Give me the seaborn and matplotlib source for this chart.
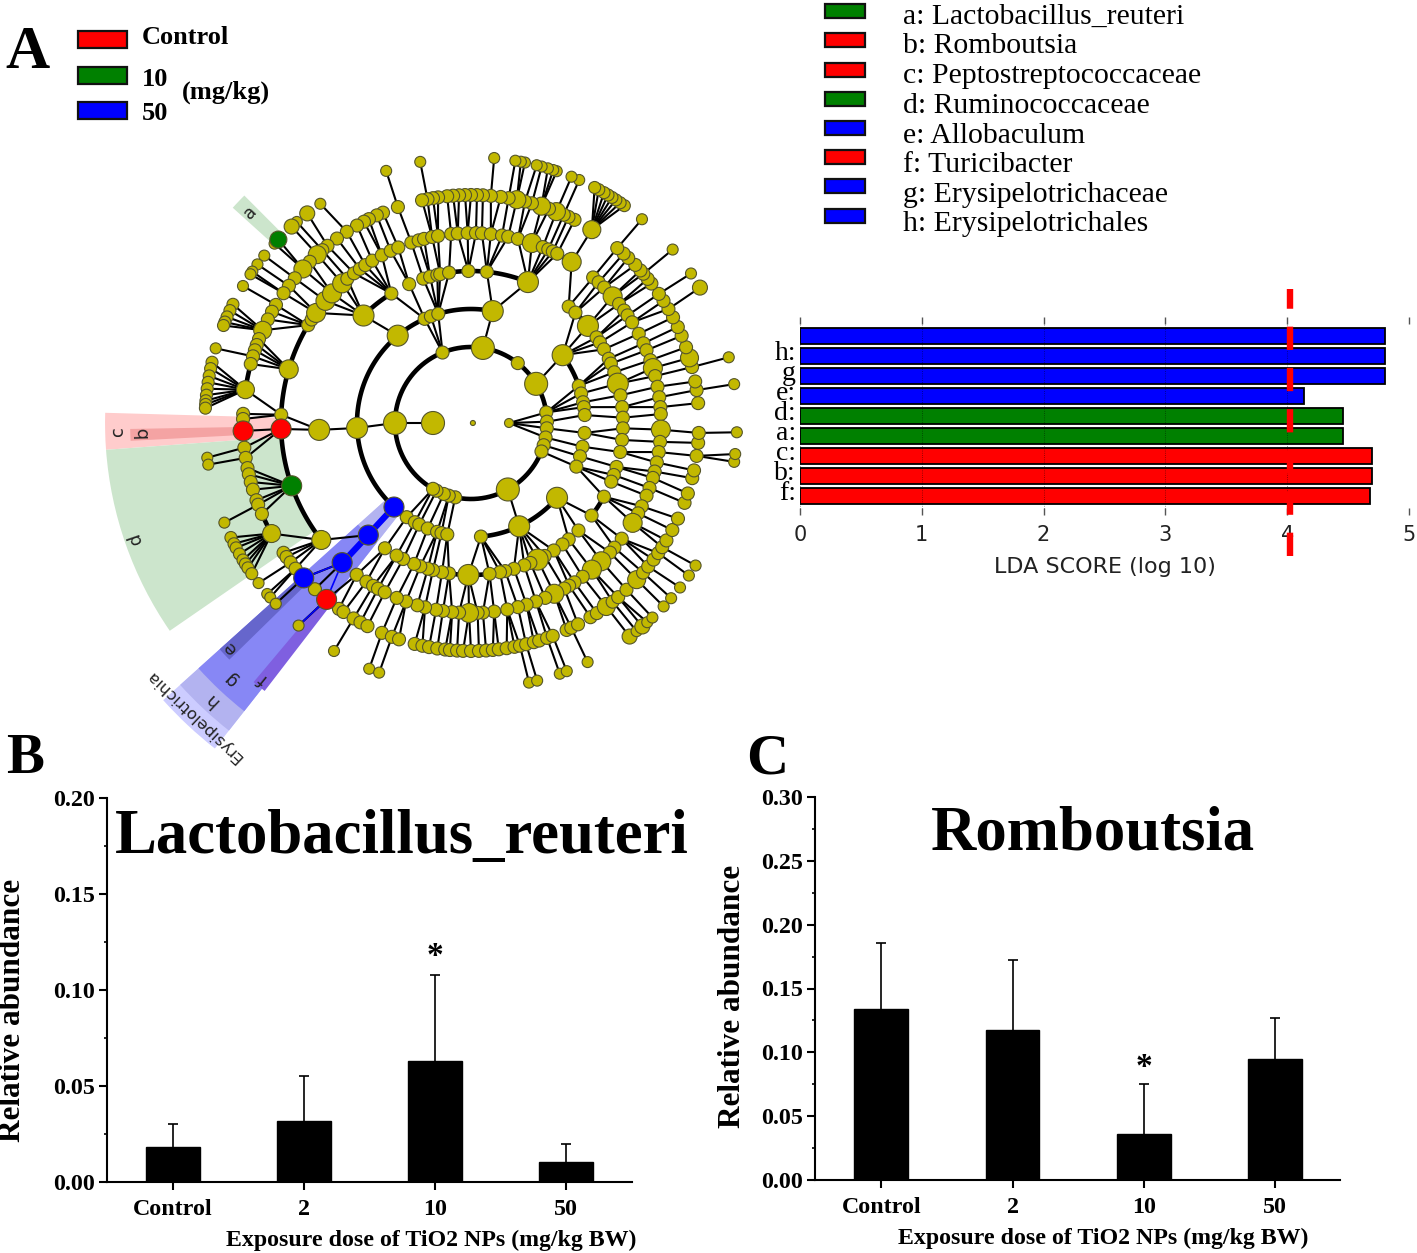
import matplotlib
matplotlib.use("Agg")
import matplotlib.pyplot as plt
import numpy as np
import pandas as pd
import seaborn as sns
from matplotlib.collections import LineCollection
from matplotlib.patches import Rectangle, Wedge
from matplotlib.ticker import AutoMinorLocator

W, H = 1417, 1253
SERIF = "Liberation Serif"
SANS = "DejaVu Sans"

# panel A legend
group_labels = ["Control", "10", "50"]
group_colors = ["#ff0000", "#008000", "#0000ff"]
taxa_labels = [
    "a: Lactobacillus_reuteri",
    "b: Romboutsia",
    "c: Peptostreptococcaceae",
    "d: Ruminococcaceae",
    "e: Allobaculum",
    "f: Turicibacter",
    "g: Erysipelotrichaceae",
    "h: Erysipelotrichales",
]
taxa_groups = ["10", "Control", "Control", "10", "50", "Control", "50", "50"]

# LDA bars, top to bottom
lda_rows = ["Erysipelotrichia", "h", "g", "e", "d", "a", "c", "b", "f"]
lda_scores = [4.80, 4.80, 4.80, 4.14, 4.46, 4.46, 4.70, 4.70, 4.68]
lda_groups = ["50", "50", "50", "50", "10", "10", "Control", "Control", "Control"]
lda_ticklabels = ["h:", "g", "e:", "d:", "a:", "c:", "b:", "f:"]
lda_threshold = 4.02

# panels B and C
dose_labels = ["Control", "2", "10", "50"]
reuteri_mean = [0.018, 0.032, 0.063, 0.0105]
reuteri_top = [0.030, 0.055, 0.108, 0.020]
romboutsia_mean = [0.134, 0.1175, 0.036, 0.095]
romboutsia_top = [0.186, 0.172, 0.075, 0.127]

# cladogram node angles (degrees) per ring, ring 1 is the innermost
ring_1 = [180, 0]
ring_2 = [180, 112, 81, 52, 31, 8, 1, -4, -11, -17, -22, -61, 258, 253, 249, 243, 240]
ring_3 = [182.5, 130, 114, 110.6, 106.7, 79, 36.5, 19, 15, 10.5, 8, 4, -5, -12, -17, -22.5,
          -41, -65, -85, 227.5, 235.7, 240.5, 243, 247.7, 252.7, 255, 258]
ring_4 = [182.6, 135, 121.6, 114, 108.3, 105.6, 102.8, 101.7, 98.3, 91, 84, 68, 50, 46.6, 39.7,
          34.3, 32, 29, 25, 23, 19.5, 15, 10.5, 6, 2, -2, -6.4, -11, -16.8, -20, -22.7, -29, -37.5,
          -45, -50, -53, -57, -61, -64, -67, -69.5, -73.6, -77, -79, -83, -91, -98.3, -101, -104.5,
          -106.5, -109.5, -112, -116.5, 227.5, 235.5, 240.7]
ring_5 = [218, 199.3, 181.8, 177.5, 163.6, 149, 147, 144.6, 140, 137, 132.7, 130.6, 128, 125.8,
          123.8, 121.3, 118, 115, 112.5, 108.3, 106, 104.3, 101.8, 100, 96, 94, 91, 88.5, 86.7, 84,
          80.6, 78.7, 75.7, 71.3, 67.8, 66, 64.5, 63, 58, 50, 47.8, 45.5, 41.8, 38.8, 36.3, 34.5, 32,
          28, 24.8, 22.5, 19.3, 16.8, 14.3, 11, 7.8, 4.8, 2.7, -2, -5.7, -8.8, -12, -14.8, -16.8, -20,
          -22.5, -26, -28.4, -31.7, -37.5, -41, -43, -46.7, -50.5, -54, -57, -58.9, -60.6, -64, -67,
          -70, -73, -75.7, -79, -83, -86.4, -88, -90.6, -93.6, -95.7, -98.5, -100.6, -104, -106.4,
          -110, -113, 227.3, 233, 236.6, 239, 240.7, 243]
ring_6 = [230.7, 222.8, 214.7, 216, 217.7, 219.7, 226.8, 234.6, 236, 239, 241, 243, 247, 249.7,
          251.6, 255.7, 257.7, 259.4, 261.5, 263.5, 264.7, 266.5, 268, 270, 272, 273.8, 275.5, 277,
          279, 281, 282.4, 284, 286, 287.4, 289.5, 291, -65.2, -63.9, -62, -58.4, -56.5, -53.6, -51.6,
          -49.8, -47, -43.4, -41, -39, -36.8, -34.8, -33, -31, -28, -24.8, -20.5, -18, -14, -12, -8.3,
          -5, -2.5, 5, 8.3, 10.5, 14.2, 16.6, 19.4, 22.5, 24.9, 27.6, 30, 32.4, 34.5, 37.7, 39.2, 40.9,
          42, 43.9, 46.4, 48, 50.1, 58, 63, 64.7, 66, 68, 70, 72, 74.5, 76.3, 78.4, 80.5, 82.5, 85, 87,
          88.5, 90, 91.5, 93, 94.5, 96, 98.3, 99.6, 101, 102.4, 108.7, 112.7, 114.4, 116.6, 118, 120,
          123, 126, 129, 130.7, 132.4, 135, 137.5, 140.6, 143, 145.3, 148.8, 150.8, 153, 156, 158.4,
          160, 161.4, 163, 165, 171.6, 177.7, 179, 182, 186.2, 188.8, 191.4, 193, 195, 197, 199.8, 201,
          203.5, 209]
ring_7 = [124.5, 128, 130.9, 132.4, 136.4, 137.6, 141, 143.4, 145.3, 146, 149, 163.7, 187.5, 189,
          202, 217, 220, 221, 222.8, 229.6, 239, 247.5, 249.8, -77.4, -75.6, -70.5, -68.9, -64, -53.4,
          -51.5, -49.9, -48.5, -47, -43.6, -41.2, -38.2, -35, -32.4, -8.4, -6.7, -2, 8.4, 14.3, 30.6,
          34.2, 40.7, 50, 66, 67.8, 71.2, 72, 73.2, 74.6, 75.7, 78.3, 79.2, 80.4, 85, 101, 108.6]

# fans of leaves hanging on one ring 6 node
fan_hubs = [156, 171.6, 209, 58]
fan_tips = [
    [153.5, 155, 156.5, 157.7, 158.5],
    [166.8, 168.2, 169.8, 171.2, 172.6, 174, 175.2, 176, 176.8],
    [205.5, 207, 208, 209.5, 211, 212, 213, 214.5],
    [54.8, 55.9, 57, 58, 59, 60, 61.3, 62.3],
]

# abundant nodes per ring, drawn larger
big_1 = [180]
big_2 = [180, 81, 31, -61]
big_3 = [182.5, 130, 79, 36.5, -41, -65]
big_4 = [182.6, 135, 68, 39.7, -64, -91, 15]
big_5 = [218, 163.6, 144.6, 140, 137, 132.7, 71.3, 41.8, 16.8, -2, -31.7, -46.7, -50.5, -64, -90.6, 58]
big_6 = [132.4, 137.5, 156, 171.6, 209, 78.4, 72, 68, -53.6, -43.4, 16.6, 58]
big_7 = [128, 132.4, 30.6, -53.4, -49.9, 157.7]

# biomarker nodes as (ring, angle)
control_nodes = [(5, 181.8), (6, 182), (6, 230.7)]
dose10_nodes = [(5, 199.3), (7, 136.4)]
dose50_nodes = [(3, 227.5), (4, 227.5), (5, 227.3), (6, 222.8)]

# arcs joining siblings, as (start, end) angle
arcs_2 = [(0, 360)]
arcs_3 = [(79, 227.5), (19, 36.5), (-85, -41)]
arcs_4 = [(68, 102), (39.7, 50), (121.6, 135), (-100, -83), (-37.5, -29)]
arcs_5 = [(149, 218), (58, 63)]
arcs_6 = [(165, 171.6), (203.5, 209)]

# shaded sectors behind the clades
sector_names = ["c", "d", "a", "b", "Erysipelotrichia", "h", "g", "e", "f"]
sector_start = [178.4, 184.2, 134.9, 181.0, 222, 222, 222, 222, 230]
sector_end = [184.2, 214.6, 137.9, 183.0, 231.8, 231.8, 231.8, 224.4, 232.4]
sector_inner = [5, 5, 7, 6, 3, 3, 4, 6, 6]
sector_outer = [9.63, 9.63, 8.45, 8.97, 10.9, 10.3, 9.65, 8.9, 8.9]
sector_colors = ["#ffcccc", "#cce5cc", "#cce5cc", "#f4a3a3", "#ccccff", "#b3b3f0", "#8787f5", "#6666cc", "#7f5fe0"]
label_radius = [9.3, 9.35, 8.03, 8.66, 10.62, 9.97, 9.24, 8.68, 8.68]
label_angle = [181.3, 199, 136.5, 181.7, 226.6, 226.9, 226.8, 222.9, 230.9]
label_sizes = [13, 13, 13, 13, 11.8, 13, 13, 13, 13]


def box(left, top, right, bottom):
    return [left / W, 1 - bottom / H, (right - left) / W, (bottom - top) / H]


def page_text(fig, x, y, s, size, weight="normal", family=SERIF, **kw):
    kw.setdefault("va", "center")
    fig.text(x / W, 1 - y / H, s, fontsize=size, fontweight=weight, family=family, **kw)


def swatch(fig, left, top, right, bottom, color):
    fig.add_artist(
        Rectangle((left / W, 1 - bottom / H), (right - left) / W, (bottom - top) / H,
                  transform=fig.transFigure, facecolor=color, edgecolor="#111111", linewidth=1.6)
    )


def polar(ring, angle):
    rad = np.deg2rad(angle)
    return ring * np.cos(rad), ring * np.sin(rad)


def draw_cladogram(fig):
    ax = fig.add_axes(box(53, 5, 889, 841), zorder=0)
    ax.set_xlim(-11, 11)
    ax.set_ylim(-11, 11)
    ax.axis("off")

    for i, name in enumerate(sector_names):
        outer = sector_outer[i]
        ax.add_patch(Wedge((0, 0), outer, sector_start[i], sector_end[i],
                           width=outer - sector_inner[i], facecolor=sector_colors[i],
                           edgecolor="none", zorder=1))
        x, y = polar(label_radius[i], label_angle[i])
        ax.text(x, y, name, rotation=label_angle[i] - 90, rotation_mode="anchor",
                ha="center", va="center", fontsize=label_sizes[i], color="#222222", family=SANS, zorder=2)

    for ring, arcs in zip([2, 3, 4, 5, 6], [arcs_2, arcs_3, arcs_4, arcs_5, arcs_6]):
        for start, end in arcs:
            theta = np.linspace(start, end, 120)
            x, y = polar(ring, theta)
            ax.plot(x, y, color="black", lw=3.3, solid_capstyle="butt", zorder=3)

    rings = [ring_1, ring_2, ring_3, ring_4, ring_5, ring_6, ring_7]
    segments = []
    for level in range(1, 7):
        inner = np.array(rings[level - 1], dtype=float)
        for angle in rings[level]:
            diff = (inner - angle + 180) % 360 - 180
            k = np.argmin(np.abs(diff))
            if abs(diff[k]) < 12:
                segments.append([polar(level + 1, angle), polar(level, inner[k])])
    for hub, tips in zip(fan_hubs, fan_tips):
        for tip in tips:
            segments.append([polar(7, tip), polar(6, hub)])
    ax.add_collection(LineCollection(segments, colors="black", linewidths=1.5, zorder=4))

    # thick blue branch of the Erysipelotrichales clade
    for ring in [3, 4]:
        ax.plot(*zip(polar(ring, 227.5), polar(ring + 1, 227.4)), color="#0000ff", lw=4.5, zorder=5)
    ax.plot(*zip(polar(5, 227.3), polar(6, 222.8)), color="#0000ff", lw=1.2, zorder=5)
    ax.plot(*zip(polar(6, 230.7), polar(7, 229.6)), color="#0000ff", lw=1.2, zorder=5)
    ax.plot(*zip(polar(5, 227.3), polar(6, 230.7)), color="#0000ff", lw=1.2, zorder=5)

    big = [big_1, big_2, big_3, big_4, big_5, big_6, big_7]
    small_d = [9, 13, 13, 13, 13, 13, 11]
    big_d = [23, 23, 21, 21, 19, 18, 15]
    rows = []
    for level, angles in enumerate(rings, start=1):
        for angle in angles:
            d = big_d[level - 1] if angle in big[level - 1] else small_d[level - 1]
            group = "none"
            if (level, angle) in control_nodes:
                group = "Control"
            elif (level, angle) in dose10_nodes:
                group = "10"
            elif (level, angle) in dose50_nodes:
                group = "50"
            if group != "none":
                d = 20 if level < 7 else 17
            rows.append((level, angle, d, group))
    for tips in fan_tips:
        for tip in tips:
            rows.append((7, tip, 12, "none"))
    rows.append((0.05, 0, 5, "none"))
    nodes = pd.DataFrame(rows, columns=["ring", "angle", "d", "group"])
    nodes["x"], nodes["y"] = polar(nodes["ring"].to_numpy(), nodes["angle"].to_numpy())
    nodes["marked"] = nodes["group"] != "none"
    nodes = nodes.sort_values(["marked", "ring"], ascending=[True, False])
    palette = dict(zip(group_labels, group_colors))
    palette["none"] = "#c2b800"
    sns.scatterplot(data=nodes, x="x", y="y", hue="group", palette=palette, s=(nodes["d"] * 0.72) ** 2,
                    edgecolor="#55552a", linewidth=0.8, legend=False, ax=ax, zorder=6)
    ax.set_xlim(-11, 11)
    ax.set_ylim(-11, 11)
    ax.axis("off")


def draw_lda(fig):
    ax = fig.add_axes(box(800, 317, 1409, 515), facecolor="none")
    palette = dict(zip(group_labels, group_colors))
    frame = pd.DataFrame({"row": lda_rows, "score": lda_scores, "group": lda_groups})
    sns.barplot(data=frame, x="score", y="row", hue="group", palette=palette, dodge=False, width=0.78,
                saturation=1, edgecolor="black", linewidth=1.3, legend=False, ax=ax)
    ax.set_xlim(0, 5)
    ax.set_ylim(8.95, -0.95)
    ax.set_xlabel("LDA SCORE (log 10)", fontsize=16, family=SANS, color="#222222", labelpad=9)
    ax.set_ylabel("")
    ax.set_yticks(np.arange(1, 9) - 0.28)
    ax.set_yticklabels(lda_ticklabels, fontsize=20, family=SERIF)
    ax.tick_params(axis="y", length=0, pad=3)
    ax.set_xticks(range(6))
    ax.tick_params(axis="x", which="both", top=True, bottom=True, direction="in", length=5,
                   width=1, color="#555555", labelsize=15, labelcolor="#222222", pad=7)
    for tick in ax.get_xticklabels():
        tick.set_fontfamily(SANS)
    for spine in ax.spines.values():
        spine.set_visible(False)
    ax.grid(axis="x", color="black", linestyle=":", linewidth=0.6, alpha=0.55)
    ax.set_axisbelow(False)
    ax.axvline(lda_threshold, ymin=-0.207, ymax=1.141, color="#ff0000", lw=4.6, clip_on=False,
               dashes=(3.65, 2.8), dash_capstyle="butt", zorder=5)


def draw_abundance(fig, rect, means, tops, ymax, title, title_xy, star_y, label_x, label_y, xlabel_x, xlim):
    ax = fig.add_axes(box(*rect), facecolor="none")
    sns.barplot(x=dose_labels, y=means, color="black", saturation=1, width=0.41,
                edgecolor="black", linewidth=1, ax=ax)
    positions = np.arange(len(means))
    upper = np.array(tops) - np.array(means)
    _, caps, _ = ax.errorbar(positions, means, yerr=[np.zeros(len(means)), upper], fmt="none",
                             ecolor="black", elinewidth=1.2, capsize=3.5, capthick=1.2)
    caps[0].set_visible(False)
    ax.set_xlim(*xlim)
    ax.set_ylim(0, ymax)
    ax.set_yticks(np.arange(0, ymax + 0.001, 0.05))
    ax.set_yticklabels([f"{v:.2f}" for v in np.arange(0, ymax + 0.001, 0.05)])
    ax.yaxis.set_minor_locator(AutoMinorLocator(2))
    sns.despine(ax=ax)
    for side in ["left", "bottom"]:
        ax.spines[side].set_linewidth(1.5)
    ax.tick_params(axis="y", which="major", length=6, width=1.5, pad=3)
    ax.tick_params(axis="y", which="minor", length=2.5, width=1.2)
    ax.tick_params(axis="x", length=6, width=1.5, pad=6)
    for tick in ax.get_xticklabels() + ax.get_yticklabels():
        tick.set_fontfamily(SERIF)
        tick.set_fontweight("bold")
        tick.set_fontsize(17.3)
    ax.set_xlabel("Exposure dose of TiO2 NPs (mg/kg BW)", fontsize=17.2, fontweight="bold",
                  family=SERIF, color="black")
    ax.xaxis.set_label_coords(xlabel_x, -0.125)
    ax.set_ylabel("Relative abundance", fontsize=22.5, fontweight="bold", family=SERIF, color="black")
    ax.yaxis.set_label_coords((label_x - rect[0]) / (rect[2] - rect[0]), label_y)
    ax.text(2, star_y, "*", ha="center", va="center", fontsize=24, fontweight="bold", family=SERIF)
    page_text(fig, title_xy[0], title_xy[1], title, 45.2, "bold", ha="center")


def main():
    sns.set_theme(style="ticks")
    plt.rcParams["font.family"] = [SERIF, SANS]
    plt.rcParams["axes.edgecolor"] = "black"
    plt.rcParams["axes.labelcolor"] = "black"
    plt.rcParams["xtick.color"] = "black"
    plt.rcParams["ytick.color"] = "black"
    plt.rcParams["text.color"] = "black"

    fig = plt.figure(figsize=(W / 100, H / 100), dpi=100, facecolor="white")

    draw_cladogram(fig)
    draw_lda(fig)
    draw_abundance(fig, (107, 798, 632, 1182), reuteri_mean, reuteri_top, 0.20,
                   "Lactobacillus_reuteri", (402, 838), 0.1175, 27, 0.448, 0.617, (-0.50, 3.50))
    draw_abundance(fig, (815, 797, 1340, 1180), romboutsia_mean, romboutsia_top, 0.30,
                   "Romboutsia", (1093, 834), 0.0885, 747, 0.48, 0.549, (-0.505, 3.495))

    # panel letters
    page_text(fig, 27, 53, "A", 44, "bold", ha="center")
    page_text(fig, 25, 759, "B", 41, "bold", ha="center")
    page_text(fig, 767, 759, "C", 42, "bold", ha="center")

    # group legend
    for label, color, top, text_y in zip(group_labels, group_colors, [31, 67, 102], [38, 79, 113]):
        swatch(fig, 78, top, 127, top + 17, color)
        page_text(fig, 142, text_y, label, 19, "bold")
    page_text(fig, 182, 92, "(mg/kg)", 19, "bold")

    # taxa legend
    palette = dict(zip(group_labels, group_colors))
    swatch_y = [11, 40, 70, 99, 128, 157, 186, 216]
    text_y = [17, 46, 76, 106, 136, 165, 195, 224]
    for label, group, sy, ty in zip(taxa_labels, taxa_groups, swatch_y, text_y):
        swatch(fig, 825, sy - 7, 865, sy + 7, palette[group])
        page_text(fig, 903, ty, label, 21.4)

    fig.savefig("out.png", dpi=100)
    plt.close(fig)


if __name__ == "__main__":
    main()
